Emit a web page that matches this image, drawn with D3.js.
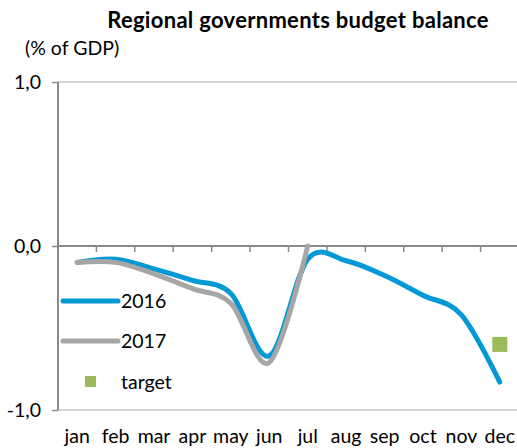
<!DOCTYPE html>
<html>
<head>
<meta charset="utf-8">
<script src="https://cdn.jsdelivr.net/npm/d3@7"></script>
<style>
  html, body { margin: 0; padding: 0; background: #fff; }
  svg { display: block; }
  text { font-family: Lato, "Open Sans", sans-serif; fill: #000; }
</style>
</head>
<body>
<svg id="chart" width="517" height="448"></svg>
<script>
const months = ["jan","feb","mar","apr","may","jun","jul","aug","sep","oct","nov","dec"];
const values2016 = [-0.10, -0.08, -0.14, -0.21, -0.29, -0.67, -0.08, -0.09, -0.18, -0.30, -0.42, -0.83];
const values2017 = [-0.10, -0.10, -0.17, -0.26, -0.35, -0.71, 0.00];
const targetMonth = "dec";
const targetValue = -0.60;
const yTicks = [1, 0, -1];
const yTickLabels = ["1,0", "0,0", "-1,0"];
const title = "Regional governments budget balance";
const unitLabel = "(% of GDP)";
const seriesNames = ["2016", "2017", "target"];

const svg = d3.select("#chart");
const plotLeft = 58, plotRight = 519, plotTop = 82, plotBottom = 410;
const fs = "19.5px";

const x = d3.scaleBand().domain(months).range([plotLeft, plotRight]).padding(0);
const cx = m => x(m) + x.bandwidth() / 2;
const y = d3.scaleLinear().domain([-1, 1]).range([plotBottom, plotTop]);

const axisGrey = "#898989";
const gridGrey = "#d4d4d4";

// gridlines at 1 and -1
svg.selectAll("line.grid").data([1, -1]).enter().append("line")
  .attr("x1", plotLeft).attr("x2", 517)
  .attr("y1", d => y(d)).attr("y2", d => y(d))
  .attr("stroke", gridGrey).attr("stroke-width", 2);

// y axis
const yAxis = d3.axisLeft(y).tickValues(yTicks).tickSize(6)
  .tickFormat((d, i) => yTickLabels[i]);
const yg = svg.append("g").attr("transform", `translate(${plotLeft},0)`).call(yAxis);
yg.select(".domain").attr("stroke", axisGrey).attr("stroke-width", 2)
  .attr("d", `M0,${plotTop}V${plotBottom}`);
yg.selectAll(".tick line").attr("stroke", axisGrey).attr("stroke-width", 1.5);
yg.selectAll(".tick text").attr("x", -17).attr("dy", "0.35em")
  .style("font-size", fs).style("font-family", "Lato, sans-serif").attr("fill", "#000");

// x axis line on zero with ticks at boundaries
const xg = svg.append("g").attr("transform", `translate(0,${y(0)})`);
xg.append("line").attr("x1", plotLeft).attr("x2", 517).attr("y1", 0).attr("y2", 0)
  .attr("stroke", axisGrey).attr("stroke-width", 2);
xg.selectAll("line.xt").data(months.slice(1)).enter().append("line")
  .attr("x1", d => x(d)).attr("x2", d => x(d))
  .attr("y1", 0).attr("y2", 6)
  .attr("stroke", axisGrey).attr("stroke-width", 1.5);

// month labels at bottom
svg.selectAll("text.month").data(months).enter().append("text")
  .attr("x", d => cx(d)).attr("y", 443)
  .attr("text-anchor", "middle")
  .style("font-size", fs)
  .text(d => d);

// lines
const line = d3.line().x((d, i) => cx(months[i])).y(d => y(d)).curve(d3.curveCardinal.tension(0));
svg.append("path").datum(values2016).attr("d", line)
  .attr("fill", "none").attr("stroke", "#0099d6").attr("stroke-width", 5)
  .attr("stroke-linecap", "round").attr("stroke-linejoin", "round");
svg.append("path").datum(values2017).attr("d", line)
  .attr("fill", "none").attr("stroke", "#a6a6a6").attr("stroke-width", 5)
  .attr("stroke-linecap", "round").attr("stroke-linejoin", "round");

// target marker
const ts = 15;
svg.append("rect").attr("x", cx(targetMonth) - ts / 2).attr("y", y(targetValue) - ts / 2)
  .attr("width", ts).attr("height", ts).attr("fill", "#9bbb59");

// legend
const lg = svg.append("g");
lg.append("line").attr("x1", 63).attr("x2", 118).attr("y1", 301).attr("y2", 301)
  .attr("stroke", "#0099d6").attr("stroke-width", 5).attr("stroke-linecap", "round");
lg.append("text").attr("x", 121).attr("y", 301).attr("dy", "0.35em").style("font-size", fs).text(seriesNames[0]);
lg.append("line").attr("x1", 63).attr("x2", 118).attr("y1", 341).attr("y2", 341)
  .attr("stroke", "#a6a6a6").attr("stroke-width", 5).attr("stroke-linecap", "round");
lg.append("text").attr("x", 121).attr("y", 341).attr("dy", "0.35em").style("font-size", fs).text(seriesNames[1]);
lg.append("rect").attr("x", 85).attr("y", 376).attr("width", 11).attr("height", 11).attr("fill", "#9bbb59");
lg.append("text").attr("x", 121).attr("y", 382).attr("dy", "0.35em").style("font-size", fs).text(seriesNames[2]);

// title
svg.append("text").attr("x", 298).attr("y", 28).attr("text-anchor", "middle")
  .style("font-size", "22px").style("font-weight", "bold").style("letter-spacing", "0.3px").text(title);
svg.append("text").attr("x", 25).attr("y", 55)
  .style("font-size", fs).text(unitLabel);
</script>
</body>
</html>
